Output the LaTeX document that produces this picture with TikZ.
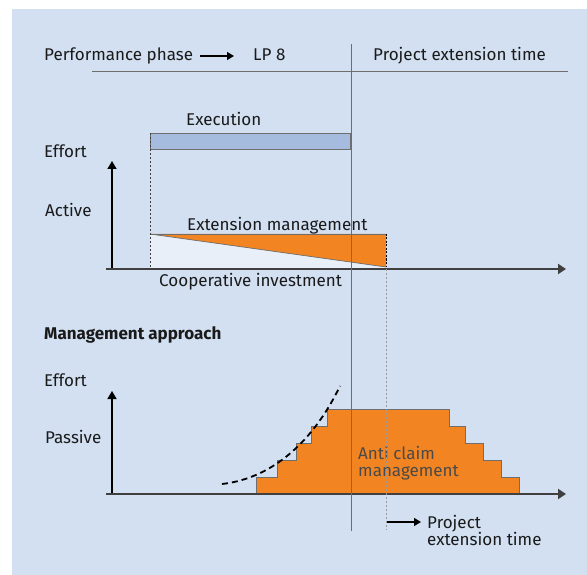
\documentclass[tikz,border=0pt]{standalone}
\usepackage{fontspec}
\setmainfont{Fira Sans}
\usetikzlibrary{arrows.meta}
\definecolor{bgblue}{HTML}{D2E0F2}
\definecolor{orng}{HTML}{F28522}
\definecolor{execblue}{HTML}{A5BCDE}
\definecolor{lightfill}{HTML}{E9EFF9}
\definecolor{linegray}{HTML}{6E6E6E}
\definecolor{axisgray}{HTML}{404040}
\definecolor{txt}{HTML}{1A1A1A}
\definecolor{antitxt}{HTML}{4A4A4A}
\tikzset{
  lbl/.style={anchor=base west, inner sep=0pt, text=txt},
  axisline/.style={draw=axisgray, line width=1.8pt, -{Triangle[width=10pt,length=8pt]}},
  uparrow/.style={draw=black, line width=1.6pt, -{Triangle[width=9pt,length=8pt]}},
  guide/.style={draw=axisgray, line width=0.8pt, dash pattern=on 2pt off 2pt},
  grayguide/.style={draw=gray!80, line width=1pt, dash pattern=on 2pt off 2pt},
  thin/.style={draw=linegray, line width=0.8pt}
}
\begin{document}
\begin{tikzpicture}[x=1pt,y=-1pt,font=\fontsize{17}{20}\selectfont]
\useasboundingbox (0,0) rectangle (587,575);
\fill[bgblue] (12,9) rectangle (587,575);

% header
\node[lbl] (perf) at (44,61) {Performance phase};
\coordinate (pa1) at (200,56);
\coordinate (pa2) at (234,56);
\draw[black, line width=1.4pt, -{Triangle[width=8pt,length=7pt]}] (pa1) -- (pa2);
\node[lbl] (lp) at (253,61) {LP 8};
\node[lbl] (pet) at (373,61) {Project extension time};
\coordinate (hl1) at (92,71);
\coordinate (hl2) at (568,71);
\draw[thin] (hl1) -- (hl2);

% upper chart
\fill[lightfill] (150,234) -- (386,267) -- (386,269) -- (150,269) -- cycle;
\fill[orng] (150,234) -- (386,234) -- (386,267) -- cycle;
\draw[linegray, line width=0.7pt] (150,234) -- (386,234);
\draw[linegray, line width=0.7pt] (150,234) -- (386,267);
\node[draw=linegray, line width=0.8pt, fill=execblue, minimum width=200pt, minimum height=16pt, inner sep=0pt, anchor=north west] (exec) at (150,133) {};
\node[lbl] (execl) at (186,126) {Execution};
\coordinate (g1) at (150,133);
\coordinate (g2) at (150,269);
\draw[guide] (g1) -- (g2);
\coordinate (g3) at (386,234);
\coordinate (g4) at (386,267);
\draw[black, line width=1pt, dash pattern=on 2pt off 1.5pt] (g3) -- (g4);
\node[lbl] (effort1) at (44,158) {Effort};
\node[lbl] (active) at (45,217) {Active};
\coordinate (ua1) at (112,269);
\coordinate (ua2) at (112,161);
\draw[uparrow] (ua1) -- (ua2);
\coordinate (ax1) at (106,269);
\coordinate (ax2) at (566,269);
\draw[axisline] (ax1) -- (ax2);
\node[lbl] (extm) at (187,231) {Extension management};
\node[lbl] (coop) at (159,287) {Cooperative investment};

% lower chart
\node[lbl, font=\fontsize{17}{20}\selectfont\bfseries] (mapp) at (44,339) {Management approach};
\node[lbl] (effort2) at (44,386) {Effort};
\node[lbl] (passive) at (45,443) {Passive};
\fill[orng, draw=linegray, line width=0.7pt]
  (256,494) -- (256,477) -- (277,477) -- (277,460) -- (296,460) -- (296,443)
  -- (311,443) -- (311,426) -- (327,426) -- (327,409) -- (449,409) -- (449,426)
  -- (465,426) -- (465,443) -- (483,443) -- (483,460) -- (501,460) -- (501,477)
  -- (519,477) -- (519,494) -- cycle;
\draw[black, line width=1.8pt, dash pattern=on 6pt off 4pt]
  (222,484) .. controls (275,478) and (315,438) .. (340,386);
\coordinate (ub1) at (112,494);
\coordinate (ub2) at (112,391);
\draw[uparrow] (ub1) -- (ub2);
\coordinate (bx1) at (106,494);
\coordinate (bx2) at (566,494);
\draw[axisline] (bx1) -- (bx2);
\node[lbl, text=antitxt] (anti) at (358,459) {Anti claim};
\node[lbl, text=antitxt] (anti2) at (358,476) {management};

% verticals
\coordinate (v1) at (351,44);
\coordinate (v2) at (351,531);
\draw[linegray, line width=1pt] (v1) -- (v2);
\coordinate (d1) at (386,269);
\coordinate (d2) at (386,530);
\draw[grayguide] (d1) -- (d2);

% bottom arrow
\coordinate (ba1) at (387,522);
\coordinate (ba2) at (421,522);
\draw[black, line width=1.4pt, -{Triangle[width=8pt,length=7pt]}] (ba1) -- (ba2);
\node[lbl] (proj) at (427,528) {Project};
\node[lbl] (ext) at (427,545) {extension time};
\end{tikzpicture}
\end{document}
